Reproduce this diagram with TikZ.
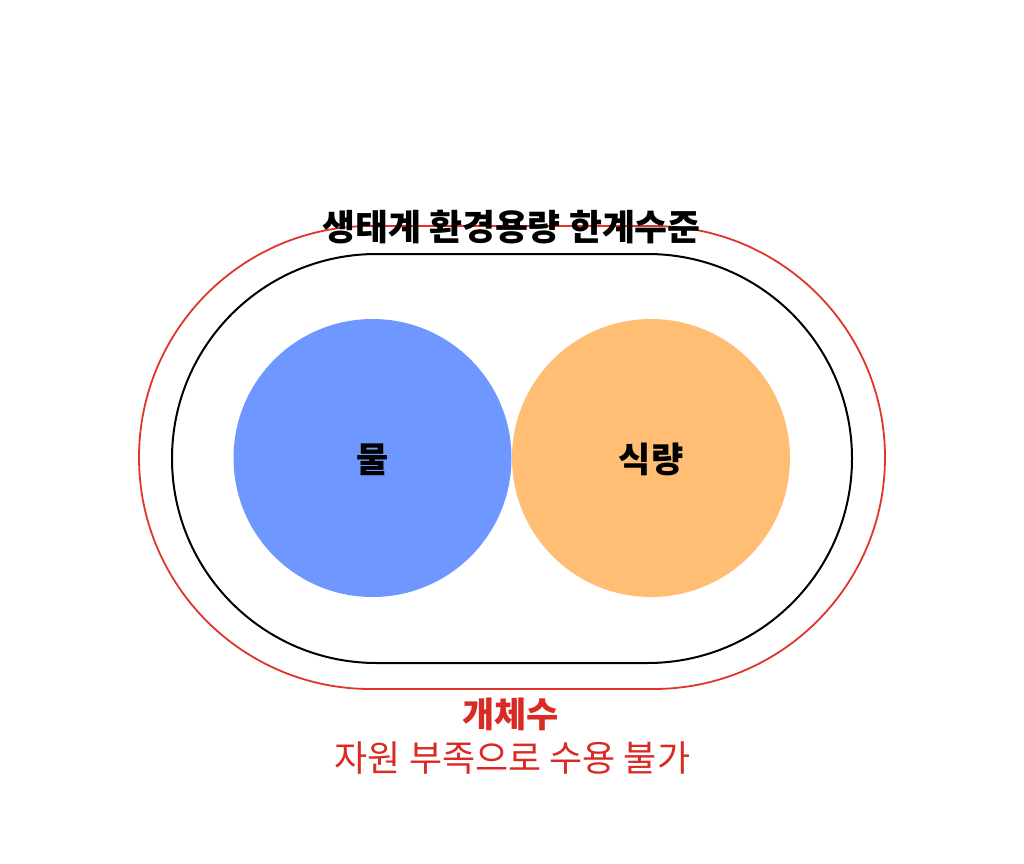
\documentclass[tikz,border=0pt]{standalone}
\usepackage{fontspec}
\setmainfont{Noto Sans CJK KR}
\definecolor{waterblue}{HTML}{6E97FF}
\definecolor{foodorange}{HTML}{FFBE73}
\definecolor{limitred}{HTML}{E0352B}
\definecolor{textred}{HTML}{D92B24}
\tikzset{
  px/.style={x=1pt,y=-1pt},
  resource/.style={circle,minimum size=278pt,inner sep=0pt,draw=none},
  label/.style={font=\fontsize{35}{35}\selectfont\bfseries,text=black,inner sep=0pt},
  boundary/.style={draw=black,line width=2pt},
  limit/.style={draw=limitred,line width=1.8pt},
}
\begin{document}
\begin{tikzpicture}[px]
\useasboundingbox (0,0) rectangle (1024,863);
\fill[white] (0,0) rectangle (1024,863);
% outer red stadium
\draw[limit,rounded corners=231.5pt] (139,226) rectangle (885,689);
% inner black stadium
\draw[boundary,rounded corners=204.5pt] (172,254) rectangle (852,663);
% circles
\node[resource,fill=waterblue] (water) at (372.5,458) {};
\node[resource,fill=foodorange] (food) at (651,458) {};
\node[label] (waterlbl) at (373,459.5) {물};
\node[label] (foodlbl) at (651,459.5) {식량};
% title
\node[font=\fontsize{35.8}{35.8}\selectfont\bfseries,inner sep=0pt] (title) at (511.5,227.5) {생태계 환경용량 한계수준};
% bottom labels
\node[font=\fontsize{35}{35}\selectfont\bfseries,text=textred,inner sep=0pt] (count) at (510.5,714.5) {개체수};
\node[font=\fontsize{36}{36}\selectfont,text=textred,inner sep=0pt] (note) at (512.5,758) {자원 부족으로 수용 불가};
\end{tikzpicture}
\end{document}
